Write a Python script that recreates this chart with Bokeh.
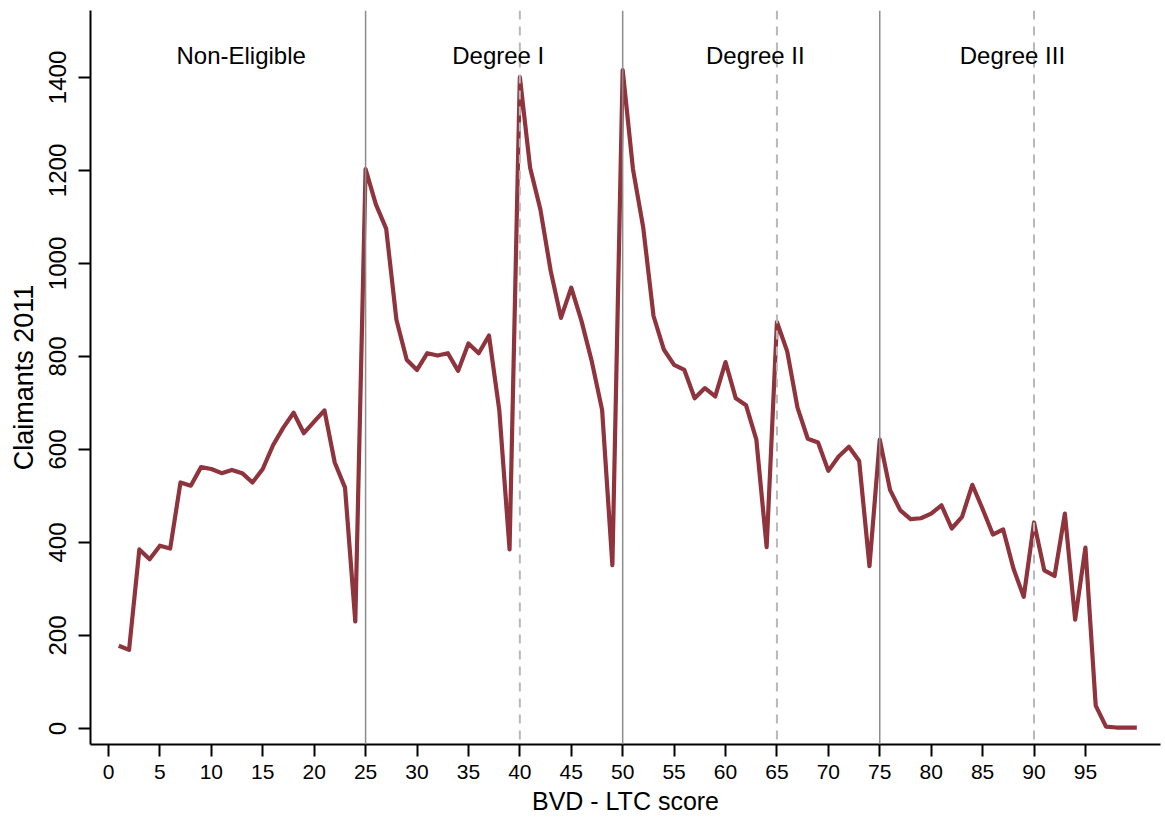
from bokeh.plotting import figure
from bokeh.models import Range1d, Span, Label, FixedTicker
from bokeh.embed import file_html
from bokeh.resources import INLINE

# Data
scores = list(range(1, 101))
claimants = [
    178, 169, 385, 364, 393, 387, 529, 522, 562, 558,
    549, 556, 549, 529, 558, 609, 647, 679, 635, 660,
    684, 572, 518, 230, 1203, 1127, 1075, 879, 793, 771,
    807, 802, 807, 769, 828, 807, 845, 685, 385, 1401,
    1206, 1116, 984, 883, 948, 876, 789, 685, 351, 1416,
    1203, 1077, 887, 815, 782, 771, 710, 732, 714, 788,
    710, 695, 621, 390, 874, 811, 690, 623, 615, 554,
    585, 606, 575, 349, 621, 513, 469, 450, 452, 462,
    480, 430, 455, 524, 472, 417, 428, 344, 283, 443,
    340, 328, 462, 234, 389, 49, 4, 2, 2, 2,
]
solid_cutoffs = [25, 50, 75]
dashed_cutoffs = [40, 65, 90]
group_labels = ["Non-Eligible", "Degree I", "Degree II", "Degree III"]
group_label_x = [12.9, 37.9, 62.9, 87.9]
group_label_y = 1447
x_ticks = list(range(0, 100, 5))
y_ticks = list(range(0, 1401, 200))

FONT = "Liberation Sans"

p = figure(width=1165, height=825, output_backend="svg", toolbar_location=None,
           x_range=Range1d(-1.75, 102.3), y_range=Range1d(-34.5, 1544),
           min_border_left=90, min_border_right=5, min_border_top=10, min_border_bottom=81)
p.outline_line_color = None
p.xgrid.grid_line_color = None
p.ygrid.grid_line_color = None
p.background_fill_color = "white"
p.border_fill_color = "white"

for c in solid_cutoffs:
    p.add_layout(Span(location=c, dimension="height", line_color="#8c8c8c", line_width=1.5))
for c in dashed_cutoffs:
    p.add_layout(Span(location=c, dimension="height", line_color="#b8b8b8", line_width=2,
                      line_dash="9 7"))

p.line(scores, claimants, line_color="#8f343c", line_width=4.2, line_join="round")

for t, lx in zip(group_labels, group_label_x):
    p.add_layout(Label(x=lx, y=group_label_y, text=t, text_align="center", text_baseline="middle",
                       text_font=FONT, text_font_size="24px", text_color="black"))

p.xaxis.ticker = FixedTicker(ticks=x_ticks)
p.yaxis.ticker = FixedTicker(ticks=y_ticks)
for ax in (p.xaxis[0], p.yaxis[0]):
    ax.minor_tick_line_color = None
    ax.major_tick_in = 0
    ax.major_tick_out = 12
    ax.major_tick_line_width = 2
    ax.axis_line_width = 2
    ax.axis_line_color = "black"
    ax.major_tick_line_color = "black"
    ax.major_label_text_font = FONT
    ax.major_label_text_color = "black"
    ax.axis_label_text_font = FONT
    ax.axis_label_text_font_style = "normal"
    ax.axis_label_text_color = "black"

p.xaxis.major_label_text_font_size = "21px"
p.yaxis.major_label_text_font_size = "24px"
p.xaxis.axis_label_text_font_size = "25px"
p.yaxis.axis_label_text_font_size = "27px"
p.xaxis.axis_label = "BVD - LTC score"
p.yaxis.axis_label = "Claimants 2011"
p.yaxis.major_label_orientation = "vertical"
p.yaxis.major_label_standoff = 12
p.xaxis.major_label_standoff = 8
p.yaxis.axis_label_standoff = 8
p.xaxis.axis_label_standoff = 5

open("out.html", "w").write(file_html(p, INLINE))
